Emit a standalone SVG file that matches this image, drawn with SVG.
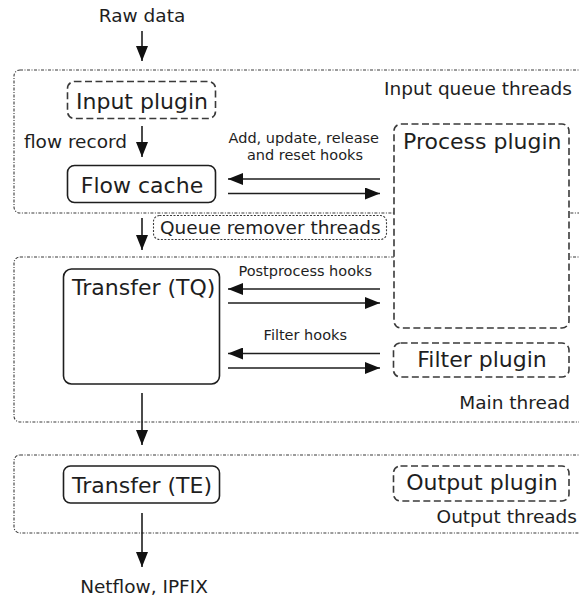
<svg xmlns="http://www.w3.org/2000/svg" width="579" height="599" viewBox="0 0 579 599">
<defs>
<style>
text{font-family:"DejaVu Sans","Verdana",sans-serif;fill:#1e1e1e}
.big{font-size:22px}
.mid{font-size:18.5px}
.sm{font-size:14.5px}
.grp{fill:none;stroke:#3a3a3a;stroke-width:1.1;stroke-dasharray:3 1.5 1 1.5}
.plug{fill:#fff;stroke:#3a3a3a;stroke-width:1.6;stroke-dasharray:7 3.5}
.solid{fill:#fff;stroke:#1e1e1e;stroke-width:1.6}
.dot{fill:#fff;stroke:#3a3a3a;stroke-width:1.1;stroke-dasharray:2 1.5}
.ar{stroke:#1e1e1e;stroke-width:1.6;fill:none}
</style>
<marker id="ah" markerUnits="userSpaceOnUse" markerWidth="16" markerHeight="12" refX="15" refY="6" orient="auto">
<path d="M0,0 L15,6 L0,12 z" fill="#111"/>
</marker>
</defs>
<rect width="579" height="599" fill="#fff"/>

<g id="group-input">
<rect class="grp" x="14" y="70" width="620" height="143" rx="6"/>
<text class="mid" x="572" y="95" text-anchor="end">Input queue threads</text>
</g>
<g id="group-main">
<rect class="grp" x="14" y="257" width="620" height="165" rx="6"/>
<text class="mid" x="570" y="409" text-anchor="end">Main thread</text>
</g>
<g id="group-output">
<rect class="grp" x="14" y="455" width="620" height="78" rx="6"/>
<text class="mid" x="577" y="523" text-anchor="end">Output threads</text>
</g>

<g id="raw-data"><text class="mid" x="142" y="22" text-anchor="middle">Raw data</text></g>
<g id="input-plugin">
<rect class="plug" x="67.5" y="81.5" width="148" height="37" rx="7"/>
<text class="big" x="142" y="109" text-anchor="middle">Input plugin</text>
</g>
<g id="flow-record"><text class="mid" x="127" y="148" text-anchor="end">flow record</text></g>
<g id="flow-cache">
<rect class="solid" x="67.5" y="165.5" width="148" height="37" rx="7"/>
<text class="big" x="142" y="193" text-anchor="middle">Flow cache</text>
</g>
<g id="process-plugin">
<rect class="plug" x="394" y="124" width="175" height="204" rx="7"/>
<text class="big" x="403" y="149">Process plugin</text>
</g>
<g id="queue-remover">
<rect class="dot" x="153.5" y="215.5" width="233" height="24" rx="6"/>
<text class="mid" x="160" y="234">Queue remover threads</text>
</g>
<g id="transfer-tq">
<rect class="solid" x="63.5" y="269" width="156" height="115" rx="8"/>
<text class="big" x="72" y="295">Transfer (TQ)</text>
</g>
<g id="filter-plugin">
<rect class="plug" x="393.5" y="343" width="175.5" height="34" rx="7"/>
<text class="big" x="482" y="367" text-anchor="middle">Filter plugin</text>
</g>
<g id="transfer-te">
<rect class="solid" x="63.5" y="466" width="156" height="37" rx="7"/>
<text class="big" x="142" y="493" text-anchor="middle">Transfer (TE)</text>
</g>
<g id="output-plugin">
<rect class="plug" x="393.5" y="466" width="175.5" height="35" rx="7"/>
<text class="big" x="482" y="490" text-anchor="middle">Output plugin</text>
</g>
<g id="netflow"><text class="mid" x="144" y="593" text-anchor="middle">Netflow, IPFIX</text></g>

<g id="connectors">
<line class="ar" x1="142" y1="31" x2="142" y2="61" marker-end="url(#ah)"/>
<line class="ar" x1="142" y1="126" x2="142" y2="157" marker-end="url(#ah)"/>
<line class="ar" x1="142" y1="218" x2="142" y2="250" marker-end="url(#ah)"/>
<line class="ar" x1="142" y1="393" x2="142" y2="445" marker-end="url(#ah)"/>
<line class="ar" x1="142" y1="513" x2="142" y2="567" marker-end="url(#ah)"/>
<line class="ar" x1="380" y1="179" x2="228" y2="179" marker-end="url(#ah)"/>
<line class="ar" x1="228" y1="193.5" x2="380" y2="193.5" marker-end="url(#ah)"/>
<line class="ar" x1="380" y1="289" x2="228" y2="289" marker-end="url(#ah)"/>
<line class="ar" x1="228" y1="303" x2="380" y2="303" marker-end="url(#ah)"/>
<line class="ar" x1="380" y1="353.5" x2="228" y2="353.5" marker-end="url(#ah)"/>
<line class="ar" x1="228" y1="368" x2="380" y2="368" marker-end="url(#ah)"/>
<text class="sm" x="379" y="143" text-anchor="end">Add, update, release</text>
<text class="sm" x="363" y="160" text-anchor="end">and reset hooks</text>
<text class="sm" x="372" y="276" text-anchor="end">Postprocess hooks</text>
<text class="sm" x="347" y="340" text-anchor="end">Filter hooks</text>
</g>
</svg>
